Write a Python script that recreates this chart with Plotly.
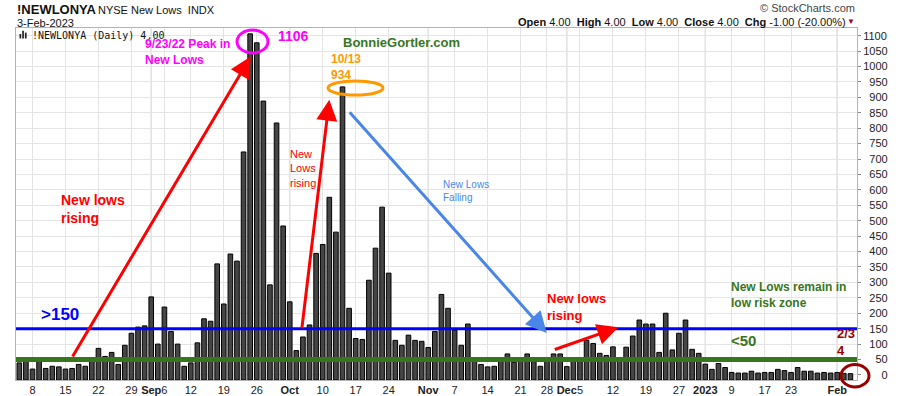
import plotly.graph_objects as go

# ---------------- data ----------------
DATES = [
    "2022-08-04", "2022-08-05", "2022-08-08", "2022-08-09", "2022-08-10", "2022-08-11", "2022-08-12",
    "2022-08-15", "2022-08-16", "2022-08-17", "2022-08-18", "2022-08-19",
    "2022-08-22", "2022-08-23", "2022-08-24", "2022-08-25", "2022-08-26",
    "2022-08-29", "2022-08-30", "2022-08-31", "2022-09-01", "2022-09-02",
    "2022-09-06", "2022-09-07", "2022-09-08", "2022-09-09",
    "2022-09-12", "2022-09-13", "2022-09-14", "2022-09-15", "2022-09-16",
    "2022-09-19", "2022-09-20", "2022-09-21", "2022-09-22", "2022-09-23",
    "2022-09-26", "2022-09-27", "2022-09-28", "2022-09-29", "2022-09-30",
    "2022-10-03", "2022-10-04", "2022-10-05", "2022-10-06", "2022-10-07",
    "2022-10-10", "2022-10-11", "2022-10-12", "2022-10-13", "2022-10-14",
    "2022-10-17", "2022-10-18", "2022-10-19", "2022-10-20", "2022-10-21",
    "2022-10-24", "2022-10-25", "2022-10-26", "2022-10-27", "2022-10-28",
    "2022-10-31", "2022-11-01", "2022-11-02", "2022-11-03", "2022-11-04",
    "2022-11-07", "2022-11-08", "2022-11-09", "2022-11-10", "2022-11-11",
    "2022-11-14", "2022-11-15", "2022-11-16", "2022-11-17", "2022-11-18",
    "2022-11-21", "2022-11-22", "2022-11-23", "2022-11-25",
    "2022-11-28", "2022-11-29", "2022-11-30", "2022-12-01", "2022-12-02",
    "2022-12-05", "2022-12-06", "2022-12-07", "2022-12-08", "2022-12-09",
    "2022-12-12", "2022-12-13", "2022-12-14", "2022-12-15", "2022-12-16",
    "2022-12-19", "2022-12-20", "2022-12-21", "2022-12-22", "2022-12-23",
    "2022-12-27", "2022-12-28", "2022-12-29", "2022-12-30",
    "2023-01-03", "2023-01-04", "2023-01-05", "2023-01-06",
    "2023-01-09", "2023-01-10", "2023-01-11", "2023-01-12", "2023-01-13",
    "2023-01-17", "2023-01-18", "2023-01-19", "2023-01-20",
    "2023-01-23", "2023-01-24", "2023-01-25", "2023-01-26", "2023-01-27",
    "2023-01-30", "2023-01-31", "2023-02-01", "2023-02-02", "2023-02-03",
]

NEW_LOWS = [
    39, 48, 19, 47, 21, 28, 26,
    19, 21, 34, 28, 48,
    86, 60, 73, 34, 96,
    135, 155, 159, 253, 100,
    220, 141, 100, 28,
    39, 104, 182, 174, 360,
    230, 392, 369, 723, 1106,
    1077, 888, 292, 817, 483,
    237, 79, 123, 162, 394,
    423, 576, 463, 934, 216,
    118, 115, 307, 411, 544,
    330, 112, 96, 129, 112,
    109, 89, 141, 261, 216,
    145, 96, 165, 45, 34,
    26, 28, 45, 68, 41,
    48, 68, 43, 28,
    48, 68, 68, 27, 48,
    48, 112, 102, 70, 63,
    91, 45, 90, 126, 178,
    165, 165, 73, 200, 81,
    135, 178, 83, 70,
    35, 18, 37, 24,
    8, 6, 6, 12, 6,
    8, 8, 18, 14,
    8, 24, 12, 12, 6,
    8, 6, 8, 5, 4,
]

TICK_DATES = ["2022-08-08", "2022-08-15", "2022-08-22", "2022-08-29", "2022-09-01", "2022-09-06",
              "2022-09-12", "2022-09-19", "2022-09-26", "2022-10-03", "2022-10-10", "2022-10-17",
              "2022-10-24", "2022-11-01", "2022-11-07", "2022-11-14", "2022-11-21", "2022-11-28",
              "2022-12-01", "2022-12-05", "2022-12-12", "2022-12-19", "2022-12-27", "2023-01-03",
              "2023-01-09", "2023-01-17", "2023-01-23", "2023-02-01"]
TICK_LABELS = ["8", "15", "22", "29", "<b>Sep</b>", "6", "12", "19", "26", "<b>Oct</b>", "10", "17",
               "24", "<b>Nov</b>", "7", "14", "21", "28", "<b>Dec</b>", "5", "12", "19", "27", "<b>2023</b>",
               "9", "17", "23", "<b>Feb</b>"]
MONTH_STARTS = ["2022-09-01", "2022-10-03", "2022-11-01", "2022-12-01", "2023-01-03", "2023-02-01"]

Y_TICKS = list(range(0, 1101, 50))
HIGH_RISK = 150
LOW_RISK = 50

# ---------------- layout constants ----------------
W, H = 900, 396
ML, MR, MT, MB = 16, 43, 28, 16
PW, PH = W - ML - MR, H - MT - MB
Y_MIN, Y_MAX = -16.5, 1125
FONT = "Liberation Sans, Arial, sans-serif"


def px(x):
    return (x - ML) / PW


def py(y):
    return (H - MB - y) / PH


def pad_label(v):
    s = str(v)
    return "\u00a0" * (2 * (4 - len(s))) + s


fig = go.Figure()
fig.add_trace(go.Bar(
    x=DATES,
    y=[v - Y_MIN for v in NEW_LOWS],
    base=Y_MIN,
    marker=dict(color="#454545", line=dict(color="#000000", width=1)),
    hoverinfo="skip",
))

fig.update_layout(
    width=W, height=H,
    margin=dict(l=ML, r=MR, t=MT, b=MB, autoexpand=False),
    paper_bgcolor="white", plot_bgcolor="white",
    showlegend=False,
    bargap=0.3,
    font=dict(family=FONT, size=11, color="#222"),
    xaxis=dict(
        type="category", range=[-0.5, len(DATES)],
        tickmode="array", tickvals=TICK_DATES, ticktext=TICK_LABELS, tickangle=0,
        showgrid=True, gridcolor="#e4e4e4", gridwidth=1,
        ticks="", ticklen=0,
        showline=True, linecolor="#b4b4b4", mirror=True,
        tickfont=dict(family=FONT, size=11, color="#222"),
        fixedrange=True,
    ),
    yaxis=dict(
        side="right", range=[Y_MIN, Y_MAX],
        tickmode="array", tickvals=Y_TICKS, ticktext=[pad_label(v) for v in Y_TICKS],
        showgrid=True, gridcolor="#e4e4e4", gridwidth=1, zeroline=False,
        ticks="outside", ticklen=3, tickcolor="#888",
        showline=True, linecolor="#b4b4b4", mirror=True,
        tickfont=dict(family=FONT, size=11, color="#222"),
        fixedrange=True,
    ),
)

# darker month separator lines
for d in MONTH_STARTS:
    fig.add_shape(type="line", xref="x", yref="paper", x0=d, x1=d, y0=0, y1=1,
                  line=dict(color="#b8b8b8", width=1), layer="below")

# reference lines
fig.add_shape(type="line", xref="paper", yref="y", x0=0, x1=1, y0=HIGH_RISK, y1=HIGH_RISK,
              line=dict(color="#0000ff", width=3))
fig.add_shape(type="line", xref="paper", yref="y", x0=0, x1=1, y0=LOW_RISK, y1=LOW_RISK,
              line=dict(color="#38761d", width=5))

# ellipses
fig.add_shape(type="circle", xref="paper", yref="paper", x0=px(237), x1=px(268), y0=py(53), y1=py(30),
              line=dict(color="#ff00ff", width=3))
fig.add_shape(type="circle", xref="paper", yref="paper", x0=px(328), x1=px(383), y0=py(95), y1=py(81),
              line=dict(color="#ff9900", width=3))
fig.add_shape(type="circle", xref="paper", yref="paper", x0=px(841), x1=px(869), y0=py(387), y1=py(364.5),
              line=dict(color="#990000", width=3))

# small bar icon in legend
for x0, x1, y0 in [(19.5, 21.2, 34), (22.2, 23.9, 30.8), (24.9, 26.6, 32.6)]:
    fig.add_shape(type="rect", xref="paper", yref="paper", x0=px(x0), x1=px(x1), y0=py(38.5), y1=py(y0),
                  line=dict(width=0), fillcolor="#222")


def text(t, x, y, size, color, bold=False, anchor="left", family=FONT):
    if bold:
        t = "<b>" + t.replace("<br>", "</b><br><b>") + "</b>"
    fig.add_annotation(text=t, x=px(x), y=py(y), xref="paper", yref="paper",
                       xanchor=anchor, yanchor="middle", showarrow=False, align=anchor if anchor != "center" else "center",
                       font=dict(family=family, size=size, color=color))


def arrow(tx, ty, hx, hy, color, width=3, size=1.4):
    fig.add_annotation(text="", x=px(hx), y=py(hy), xref="paper", yref="paper",
                       ax=tx - hx, ay=ty - hy, showarrow=True, arrowhead=2,
                       arrowwidth=width, arrowsize=size, arrowcolor=color, standoff=0)


# header
text("!NEWLONYA", 15, 9.5, 13, "#111", bold=True)
text("NYSE New Lows\u00a0 INDX", 96, 10, 11, "#111")
text("3-Feb-2023", 15, 23, 11, "#111")
text("\u00a9 StockCharts.com", 857, 8.5, 11, "#444", anchor="right")
text("<b>Open</b> 4.00\u00a0 <b>High</b> 4.00\u00a0 <b>Low</b> 4.00\u00a0 <b>Close</b> 4.00\u00a0 "
     "<b>Chg</b> -1.00 (-20.00%)", 848, 22, 11, "#111", anchor="right")
text("\u25bc", 857, 22, 8, "#990033", anchor="right")
text("!NEWLONYA (Daily) 4.00", 30, 35.5, 10, "#111", family="DejaVu Sans Mono, monospace")

# annotations in the plot
text("1106", 276, 36, 14, "#ff00ff", bold=True)
text("9/23/22 Peak in<br>New Lows", 143, 52.5, 12, "#ff00ff", bold=True)
arrow(71.7, 358, 250.7, 56.5, "#ff0000")
text("New lows<br>rising", 59, 209, 14, "#ff0000", bold=True)

text("New<br>Lows<br>rising", 288, 168, 11, "#ff0000")
arrow(301.7, 329.7, 329.3, 99.7, "#ff0000")

text("BonnieGortler.com", 401.7, 42.5, 13, "#38761d", bold=True, anchor="center")
text("10/13<br>934", 329, 66.5, 12, "#ff9900", bold=True)
arrow(348.3, 110.7, 546.7, 333, "#4a86e8")
text("New Lows<br>Falling", 441, 191, 10, "#4a86e8")

text("&gt;150", 39, 314, 17, "#0000ff", bold=True)
text("New lows<br>rising", 545, 307, 13, "#ff0000", bold=True)
arrow(553.3, 350, 618.3, 327.3, "#ff0000")

text("New Lows remain in<br>low risk zone", 729, 294.5, 12, "#38761d", bold=True)
text("&lt;50", 729, 340, 15, "#38761d", bold=True)
text("2/3<br>4", 835, 342, 13, "#990000", bold=True)

POST = ("document.documentElement.style.margin='0';document.body.style.margin='0';"
        "document.body.style.padding='0';document.body.style.overflow='hidden';"
        "var gd=document.getElementById('{plot_id}');gd.style.width='900px';gd.style.height='396px';"
        "Plotly.relayout(gd,{width:900,height:396});")
fig.write_html("out.html", post_script=POST, config={"displayModeBar": False})
